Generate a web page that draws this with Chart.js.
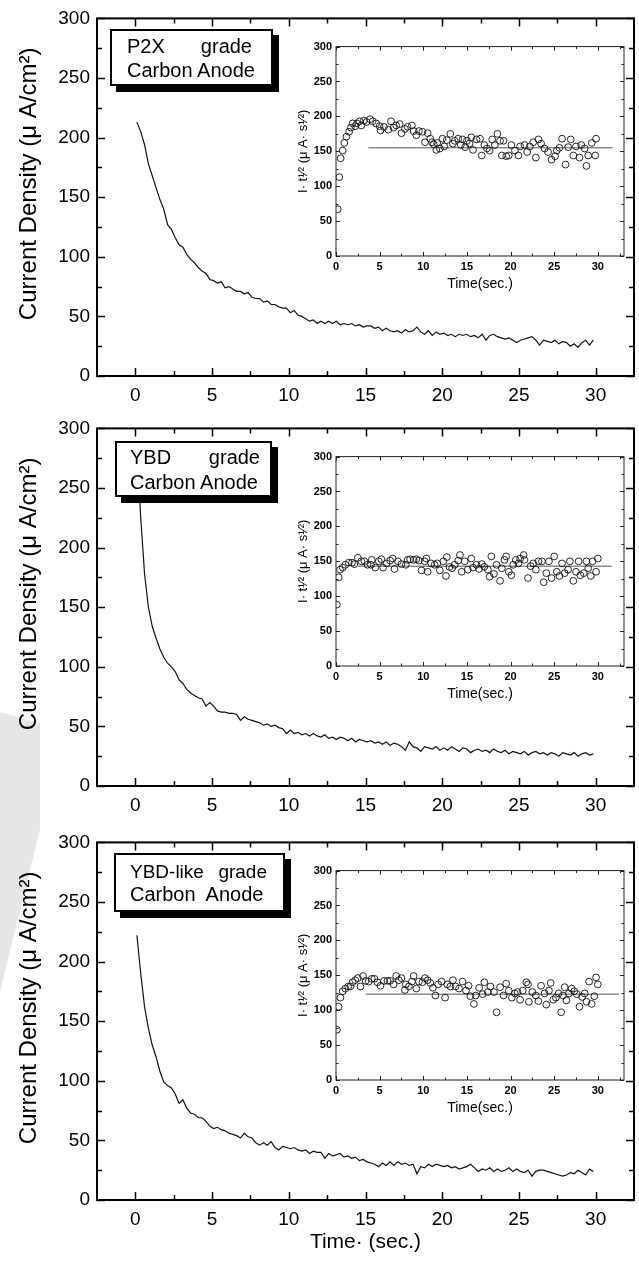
<!DOCTYPE html>
<html><head><meta charset="utf-8">
<script src="https://cdn.jsdelivr.net/npm/chart.js@4.4.1/dist/chart.umd.min.js"></script>
<style>
html,body{margin:0;padding:0;background:#fff;}
body{width:639px;height:1262px;position:relative;overflow:hidden;font-family:"Liberation Sans",Arial,sans-serif;color:#000;}
canvas{position:absolute;}
.box{position:absolute;background:#fff;border:2px solid #000;box-shadow:6px 6px 0 #000;font-size:20px;box-sizing:border-box;z-index:5;white-space:nowrap;}
.l1{display:flex;justify-content:space-between;}
.wm{position:absolute;left:0;top:712px;width:40px;height:280px;background:#e6e6e6;clip-path:polygon(0 0,100% 4%,100% 42%,0 100%);}
</style></head>
<body>
<div class="wm"></div>
<canvas id="m1" width="639" height="410" style="left:0;top:0"></canvas>
<canvas id="i1" width="344" height="260" style="left:295px;top:36px"></canvas>
<canvas id="m2" width="639" height="410" style="left:0;top:410px"></canvas>
<canvas id="i2" width="344" height="260" style="left:295px;top:446px"></canvas>
<canvas id="m3" width="639" height="438" style="left:0;top:824px"></canvas>
<canvas id="i3" width="344" height="260" style="left:295px;top:860px"></canvas>

<div class="box" style="left:110px;top:29px;width:163px;height:57px;padding:3px 19px 0 15px;line-height:24px">
  <div class="l1"><span>P2X</span><span>grade</span></div>
  <div>Carbon Anode</div>
</div>
<div class="box" style="left:115px;top:441px;width:157px;height:56px;padding:2px 10px 0 13px;line-height:25px">
  <div class="l1"><span>YBD</span><span>grade</span></div>
  <div>Carbon Anode</div>
</div>
<div class="box" style="left:114px;top:853px;width:171px;height:59px;padding:5px 16px 0 14px;line-height:23px">
  <div class="l1" style="font-size:19px"><span>YBD-like</span><span>grade</span></div>
  <div>Carbon&nbsp; Anode</div>
</div>

<script>
// ---------- data ----------
// main curves: current density (µA/cm²), sampled every 0.25 s from t = 0.1 s
const mainStartTime = 0.1;
const mainTimeStep = 0.25;
const p2xCurrent = [213,205,194,178,168,158,148,140,127,123,
116,110,108,102,98,95,91,88,86,81,
80,78,79,74,75,73,71,71,69,70,
66,65,65,62,63,60,60,58,57,57,
53,55,51,50,48,46,47,44,46,44,
46,44,46,43,44,43,44,42,43,41,
42,42,40,41,38,40,38,37,38,36,
39,37,38,41,37,35,38,34,37,35,
36,34,35,33,35,34,35,33,34,32,
35,30,34,35,33,32,31,32,30,28,
30,31,32,33,30,26,30,29,28,30,
27,29,28,25,27,24,28,30,26,30];
const ybdCurrent = [285,225,178,150,134,124,115,108,103,100,
96,89,86,81,78,76,74,73,67,70,
67,63,62,62,61,61,60,55,58,56,
55,54,53,51,52,50,51,49,48,44,
47,44,45,43,44,42,44,42,41,43,
40,41,39,41,40,38,40,37,39,38,
37,38,36,37,35,37,34,36,35,33,
30,37,33,32,29,33,32,31,33,30,
32,30,33,31,29,32,31,28,30,31,
29,30,28,31,29,28,30,27,29,28,
27,29,26,28,29,27,28,26,28,27,
25,28,27,26,28,25,27,28,26,27];
const ybdLikeCurrent = [222,190,162,144,130,120,108,99,96,94,
89,81,84,77,73,72,69,69,66,62,
60,61,59,58,56,55,54,52,56,53,
52,48,46,48,46,49,44,42,45,44,
43,44,42,41,42,39,41,40,40,35,
39,37,38,39,36,37,35,36,33,34,
32,31,30,28,31,29,32,29,32,30,
31,29,30,22,28,27,30,28,30,29,
28,29,27,28,26,27,28,30,27,24,
26,25,27,24,26,24,25,27,24,26,
24,23,25,20,24,25,25,24,23,22,
21,20,21,23,22,25,23,21,26,24];

// insets: I·t^1/2 (µA·s^1/2) vs time
const p2xInsetTime = [0.2,0.38,0.53,0.76,0.95,1.2,1.5,1.7,1.9,2.2,
2.4,2.7,2.9,3.2,3.5,3.9,4.2,4.6,5.0,5.1,
5.5,6.0,6.3,6.6,6.9,7.3,7.5,7.9,8.2,8.7,
8.9,9.2,9.5,9.9,10.2,10.5,10.8,11.0,11.2,11.5,
11.6,11.9,12.2,12.4,12.7,13.1,13.4,13.6,14.0,14.3,
14.5,14.8,15.0,15.3,15.5,15.7,16.1,16.5,16.7,17.0,
17.3,17.6,17.9,18.2,18.5,18.8,19.0,19.2,19.5,19.8,
20.1,20.5,20.9,21.1,21.6,21.9,22.2,22.6,22.9,23.2,
23.5,23.9,24.3,24.7,25.1,25.3,25.6,25.9,26.3,26.6,
26.9,27.2,27.5,27.9,28.1,28.5,28.7,28.9,29.3,29.7,29.8];
const p2xInsetValue = [67,113,140,151,162,171,178,184,190,186,
190,193,187,194,192,196,193,190,186,180,
185,181,193,184,187,189,176,182,185,187,
179,173,179,178,163,176,168,163,160,152,
162,154,168,157,166,175,161,165,168,159,
167,156,165,161,170,152,167,168,144,159,
154,151,167,159,175,165,144,165,143,144,
159,151,144,157,159,149,157,163,141,167,
161,154,149,138,143,151,155,168,131,156,
167,144,157,141,159,154,129,144,162,144,168];
const ybdInsetTime = [0.1,0.3,0.46,0.77,1.07,1.46,1.84,2.1,2.5,2.9,
3.26,3.6,4.0,4.1,4.5,4.9,5.2,5.4,5.8,6.2,
6.5,6.7,7.1,7.5,8.0,8.2,8.5,8.9,9.2,9.5,
9.8,10.15,10.35,10.5,10.9,11.3,11.6,11.9,12.3,12.6,
12.7,13.0,13.3,13.6,14.0,14.2,14.4,14.75,15.1,15.5,
15.7,16.1,16.4,16.7,17.0,17.4,17.6,17.8,18.1,18.4,
18.8,19.0,19.3,19.5,19.8,20.1,20.3,20.6,20.9,21.1,
21.5,21.6,22.0,22.3,22.6,22.9,23.2,23.6,23.8,24.1,
24.4,24.7,25.0,25.3,25.6,25.9,26.2,26.6,26.8,27.2,
27.5,27.8,28.0,28.4,28.7,28.9,29.2,29.4,29.8,30.0];
const ybdInsetValue = [88,127,138,141,145,148,148,146,155,150,
150,145,145,152,141,150,153,141,147,151,
154,139,150,146,145,152,153,152,153,151,
137,150,154,135,147,145,147,137,150,129,
156,142,140,145,151,159,135,150,138,154,
141,145,139,146,142,138,128,157,132,145,
122,140,152,157,135,130,145,152,147,154,
159,152,126,143,147,138,150,150,120,133,
150,126,157,135,129,147,133,138,150,122,
135,150,130,133,150,140,129,150,135,154];
const ybdLikeInsetTime = [0.1,0.3,0.5,0.77,1.07,1.4,1.65,1.9,2.2,2.5,
2.8,3.1,3.4,3.75,4.1,4.4,4.75,5.1,5.5,5.9,
6.2,6.6,6.9,7.2,7.5,7.9,8.0,8.35,8.7,8.9,
9.2,9.5,9.9,10.2,10.5,10.8,11.1,11.4,11.7,12.1,
12.5,12.75,13.1,13.4,13.7,14.1,14.5,14.9,15.2,15.4,
15.8,16.0,16.4,16.8,17.0,17.4,17.7,18.1,18.4,18.8,
19.2,19.5,19.8,20.15,20.5,20.8,21.1,21.4,21.8,22.0,
22.1,22.5,22.9,23.2,23.5,23.9,24.1,24.4,24.6,24.9,
25.2,25.5,25.8,26.0,26.2,26.4,26.7,27.0,27.3,27.6,
27.9,28.2,28.5,28.7,29.0,29.3,29.6,29.8,30.0];
const ybdLikeInsetValue = [72,105,118,127,131,134,134,140,143,146,
134,149,142,141,145,145,140,135,142,142,
142,137,149,143,146,129,137,134,141,149,
131,141,140,146,143,139,132,121,137,141,
118,137,134,143,134,131,141,128,135,120,
109,121,132,123,140,126,134,126,97,133,
121,138,128,118,124,126,115,128,140,137,
112,126,121,113,135,124,108,128,139,115,
118,124,97,121,133,114,124,131,127,123,
105,119,124,112,141,109,120,147,137];

// fitted constant lines in insets
const fitLevel = [155, 143, 123];
const fitStart = [3.7, 2.5, 3.4];
const fitEnd = [31.7, 31.6, 32.4];

// axis ticks
const mainXTicks = [0,5,10,15,20,25,30];
const mainXMinor = [2.5,7.5,12.5,17.5,22.5,27.5];
const insetXTicks = [0,5,10,15,20,25,30];
const insetXMinor = [2.5,7.5,12.5,17.5,22.5,27.5,32.5];
const yTicks = [0,50,100,150,200,250,300];
const yMinor = [25,75,125,175,225,275];

// ---------- drawing ----------
Chart.defaults.font.family = "'Liberation Sans', Arial, sans-serif";
Chart.defaults.color = '#000';

function frameTicks(cfg){
  return {
    id:'frameTicks',
    afterDatasetsDraw(chart){
      const {ctx, chartArea:a, scales:{x,y}} = chart;
      ctx.save();
      ctx.strokeStyle = cfg.color;
      ctx.lineWidth = cfg.frame;
      ctx.strokeRect(a.left, a.top, a.right-a.left, a.bottom-a.top);
      ctx.lineWidth = cfg.tickWidth;
      ctx.beginPath();
      const vx=(vals,len)=>vals.forEach(v=>{const p=Math.round(x.getPixelForValue(v))+0.5;ctx.moveTo(p,a.bottom);ctx.lineTo(p,a.bottom-len);ctx.moveTo(p,a.top);ctx.lineTo(p,a.top+len);});
      const vy=(vals,len)=>vals.forEach(v=>{const p=Math.round(y.getPixelForValue(v))+0.5;ctx.moveTo(a.left,p);ctx.lineTo(a.left+len,p);ctx.moveTo(a.right,p);ctx.lineTo(a.right-len,p);});
      vx(cfg.xMajor,cfg.major); vx(cfg.xMinor,cfg.minor);
      vy(yTicks,cfg.major); vy(yMinor,cfg.minor);
      ctx.stroke();
      ctx.restore();
    }
  };
}

function makeMain(id, values, xAxisHeight, showXTitle){
  const pts = values.map((v,i)=>({x: mainStartTime + i*mainTimeStep, y: v}));
  new Chart(document.getElementById(id), {
    type:'line',
    data:{datasets:[{data:pts, borderColor:'#111', borderWidth:1.2, pointRadius:0, tension:0, fill:false}]},
    options:{
      responsive:false, animation:false, events:[],
      layout:{padding:{top:16,right:5,left:0,bottom:0}},
      plugins:{legend:{display:false}, tooltip:{enabled:false}},
      scales:{
        x:{type:'linear', min:-2.5, max:32.5,
          afterBuildTicks:s=>{s.ticks = mainXTicks.map(v=>({value:v}));},
          afterFit:s=>{s.height = xAxisHeight;},
          grid:{display:false, drawTicks:false}, border:{display:false},
          ticks:{font:{size:19}, padding:8, maxRotation:0, autoSkip:false},
          title:{display:showXTitle, text:'Time· (sec.)', font:{size:21}, padding:{top:0,bottom:7}}
        },
        y:{type:'linear', min:0, max:300,
          afterBuildTicks:s=>{s.ticks = yTicks.map(v=>({value:v}));},
          afterFit:s=>{s.width = 97;},
          grid:{display:false, drawTicks:false}, border:{display:false},
          ticks:{font:{size:19}, padding:7, autoSkip:false},
          title:{display:true, text:'    Current Density (μ A/cm²)', font:{size:24}, padding:{top:15,bottom:0}}
        }
      }
    },
    plugins:[frameTicks({color:'#000', frame:2, tickWidth:1.5, major:8, minor:5, xMajor:mainXTicks, xMinor:mainXMinor})]
  });
}

function makeInset(id, times, values, k){
  const pts = times.map((t,i)=>({x:t, y:values[i]}));
  new Chart(document.getElementById(id), {
    type:'scatter',
    data:{datasets:[
      {data:pts, pointRadius:3.4, pointBorderWidth:0.9, pointBorderColor:'#111', pointBackgroundColor:'rgba(0,0,0,0)', showLine:false},
      {data:[{x:fitStart[k],y:fitLevel[k]},{x:fitEnd[k],y:fitLevel[k]}], showLine:true, borderColor:'#555', borderWidth:1, pointRadius:0}
    ]},
    options:{
      responsive:false, animation:false, events:[],
      layout:{padding:{top:10,right:15,left:0,bottom:0}},
      plugins:{legend:{display:false}, tooltip:{enabled:false}},
      scales:{
        x:{type:'linear', min:0, max:33,
          afterBuildTicks:s=>{s.ticks = insetXTicks.map(v=>({value:v}));},
          afterFit:s=>{s.height = 40;},
          grid:{display:false, drawTicks:false}, border:{display:false},
          ticks:{font:{size:11, weight:'bold'}, padding:4, maxRotation:0, autoSkip:false},
          title:{display:true, text:'Time(sec.)', font:{size:14}, padding:{top:0,bottom:3}}
        },
        y:{type:'linear', min:0, max:300,
          afterBuildTicks:s=>{s.ticks = yTicks.map(v=>({value:v}));},
          afterFit:s=>{s.width = 41;},
          grid:{display:false, drawTicks:false}, border:{display:false},
          ticks:{font:{size:11, weight:'bold'}, padding:4, autoSkip:false},
          title:{display:true, text:'I· t¹⁄² (μ A· s¹⁄²)', font:{size:13}, padding:{top:1,bottom:0}}
        }
      }
    },
    plugins:[frameTicks({color:'#222', frame:1, tickWidth:1, major:4, minor:2.5, xMajor:insetXTicks, xMinor:insetXMinor})]
  });
}

makeMain('m1', p2xCurrent, 34, false);
makeMain('m2', ybdCurrent, 34, false);
makeMain('m3', ybdLikeCurrent, 62, true);
makeInset('i1', p2xInsetTime, p2xInsetValue, 0);
makeInset('i2', ybdInsetTime, ybdInsetValue, 1);
makeInset('i3', ybdLikeInsetTime, ybdLikeInsetValue, 2);
</script>
</body></html>
